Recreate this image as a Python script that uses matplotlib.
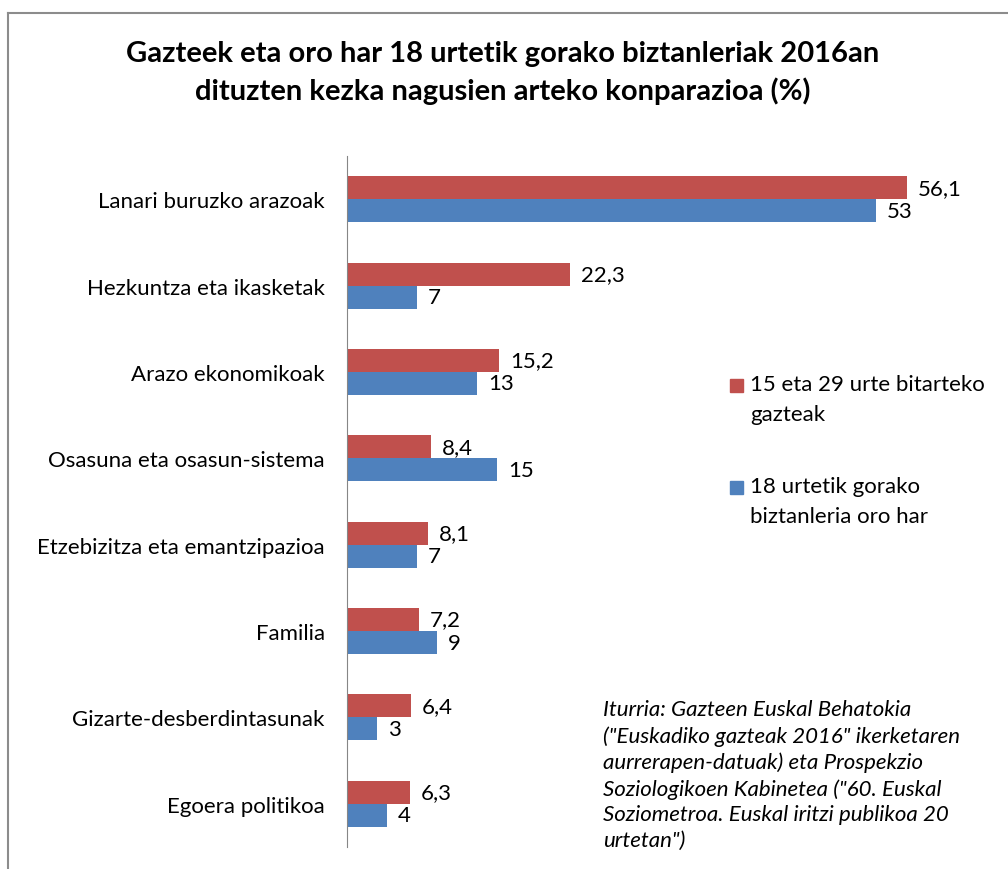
import numpy as np
import matplotlib.pyplot as plt
from matplotlib.patches import Rectangle
from matplotlib.lines import Line2D

plt.rcParams['font.family'] = ['Lato', 'DejaVu Sans']

# datuak
kategoriak = ["Lanari buruzko arazoak", "Hezkuntza eta ikasketak", "Arazo ekonomikoak",
              "Osasuna eta osasun-sistema", "Etzebizitza eta emantzipazioa", "Familia",
              "Gizarte-desberdintasunak", "Egoera politikoa"]
gazteak = [56.1, 22.3, 15.2, 8.4, 8.1, 7.2, 6.4, 6.3]
orohar = [53, 7, 13, 15, 7, 9, 3, 4]
izenak = ["15 eta 29 urte bitarteko\ngazteak", "18 urtetik gorako\nbiztanleria oro har"]
koloreak = ["#C0504D", "#4F81BD"]

fig = plt.figure(figsize=(10.08, 8.7), dpi=100)
ax = fig.add_axes([347/1008, 22/870, 620/1008, 691/870])

y = np.arange(len(kategoriak))
h = 0.266
b1 = ax.barh(y - h/2, gazteak, height=h, color=koloreak[0])
b2 = ax.barh(y + h/2, orohar, height=h, color=koloreak[1])

def etiketa(v):
    return ("%g" % v).replace(".", ",")

ax.bar_label(b1, labels=[etiketa(v) for v in gazteak], padding=8, fontsize=16)
ax.bar_label(b2, labels=[etiketa(v) for v in orohar], padding=8, fontsize=16)

ax.set_ylim(len(kategoriak) - 0.5, -0.5)
ax.set_xlim(0, 620/9.98)
ax.set_yticks(y)
ax.set_yticklabels(kategoriak, fontsize=16)
ax.tick_params(axis='y', length=0, pad=16)
ax.set_xticks([])
for s in ['top', 'right', 'bottom']:
    ax.spines[s].set_visible(False)
ax.spines['left'].set_color('#868686')

# izenburua
fig.text(503/1008, 1 - 73/870,
         "Gazteek eta oro har 18 urtetik gorako biztanleriak 2016an\n"
         "dituzten kezka nagusien arteko konparazioa (%)",
         ha='center', va='center', fontsize=21, fontweight='bold', linespacing=1.45)

# legenda
for i, (izena, kol) in enumerate(zip(izenak, koloreak)):
    ytop = 387 + i * 102
    fig.add_artist(Rectangle((730/1008, 1 - (ytop + 6)/870), 13/1008, 13/870,
                             transform=fig.transFigure, color=kol))
    fig.text(750/1008, 1 - (ytop - 12)/870, izena, ha='left', va='top',
             fontsize=16, linespacing=1.65)

# iturria
fig.text(603/1008, 1 - 700/870,
         "Iturria: Gazteen Euskal Behatokia\n(\"Euskadiko gazteak 2016\" ikerketaren\n"
         "aurrerapen-datuak) eta Prospekzio\nSoziologikoen Kabinetea (\"60. Euskal\n"
         "Soziometroa. Euskal iritzi publikoa 20\nurtetan\")",
         ha='left', va='top', fontsize=16, style='italic', linespacing=1.36)

# markoa
fig.add_artist(Line2D([8/1008, 8/1008], [0, 1 - 14/870], transform=fig.transFigure,
                      color='#8c8c8c', lw=1.5))
fig.add_artist(Line2D([8/1008, 1], [1 - 14/870, 1 - 14/870], transform=fig.transFigure,
                      color='#8c8c8c', lw=1.5))

fig.savefig("out.png", dpi=100)
